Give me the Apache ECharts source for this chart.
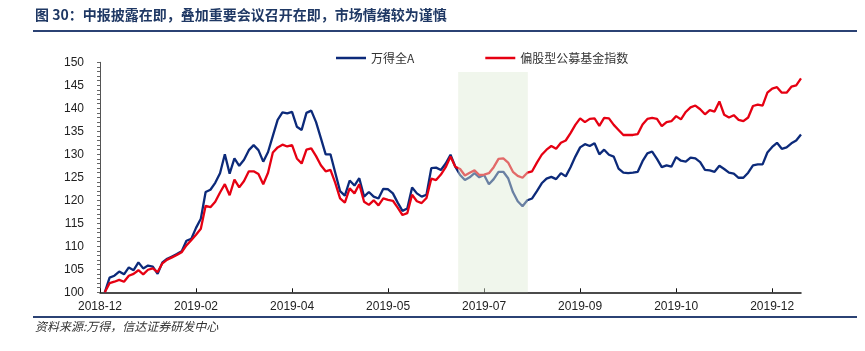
<!DOCTYPE html>
<html>
<head>
<meta charset="utf-8">
<script src="https://cdn.jsdelivr.net/npm/echarts@6.0.0/dist/echarts.min.js"></script>
<style>
  html, body { margin: 0; padding: 0; background: #fff; }
  #chart { width: 865px; height: 351px; }
</style>
</head>
<body>
<div id="chart"></div>
<script>
// 横轴刻度标签（每 20 个点一个刻度，每点约两个交易日）
const tickLabels = ['2018-12', '2019-02', '2019-04', '2019-05', '2019-07', '2019-09', '2019-10', '2019-12']
const tickStep = 20

// 万得全A（以 2018-12 末为 100）
const windA = [
  null, 100.0, 103.2, 103.6, 104.5, 103.9, 105.4, 104.8, 106.5, 105.2,
  105.8, 105.6, 104.0, 106.5, 107.3, 107.8, 108.3, 108.9, 111.2, 111.6,
  114.0, 116.0, 121.8, 122.3, 123.8, 125.9, 130.0, 125.8, 129.1, 127.5,
  128.8, 130.9, 132.0, 130.9, 128.4, 130.5, 134.0, 137.5, 139.1, 138.9,
  139.2, 136.0, 135.3, 139.0, 139.5, 137.0, 133.5, 130.0, 130.0, 126.0,
  122.0, 121.0, 124.3, 123.2, 124.8, 120.8, 121.8, 120.8, 120.4, 122.5,
  122.4, 121.5, 119.5, 117.7, 118.2, 122.8, 121.5, 120.8, 121.2, 127.0,
  127.1, 126.6, 128.0, 129.9, 127.3, 125.5, 124.4, 125.0, 125.9, 125.0,
  125.5, 123.5, 124.6, 126.2, 126.2, 124.8, 121.8, 119.8, 118.7, 120.0,
  120.4, 122.0, 123.7, 124.7, 125.1, 124.6, 125.9, 125.2, 127.2, 129.5,
  131.5, 132.2, 131.8, 132.4, 130.0, 131.0, 129.9, 129.5, 126.9, 126.0,
  125.9, 126.0, 126.2, 128.5, 130.2, 130.6, 129.0, 127.2, 127.6, 127.3,
  129.4, 128.6, 128.4, 129.3, 129.1, 128.3, 126.6, 126.5, 126.2, 127.5,
  126.8, 126.0, 125.8, 124.9, 124.9, 126.0, 127.6, 127.8, 127.8, 130.4,
  131.6, 132.5, 131.2, 131.5, 132.4, 133.0, 134.3
]

// 偏股型公募基金指数
const fundIndex = [
  null, 100.0, 102.0, 102.3, 102.7, 102.3, 103.6, 104.0, 104.8, 103.9,
  104.9, 105.2, 104.4, 106.3, 107.1, 107.6, 108.1, 108.7, 110.2, 111.3,
  112.5, 113.8, 118.8, 118.5, 119.7, 121.7, 123.5, 121.1, 124.5, 122.8,
  124.2, 126.3, 126.3, 125.7, 123.5, 126.0, 130.4, 131.5, 132.1, 131.7,
  132.0, 129.1, 128.0, 131.0, 131.3, 129.6, 127.6, 126.3, 126.6, 123.8,
  120.4, 119.5, 122.6, 121.5, 123.5, 119.7, 119.0, 120.0, 118.9, 120.4,
  120.1, 119.9, 118.4, 116.8, 117.2, 121.2, 119.8, 119.4, 120.5, 124.7,
  124.4, 125.6, 127.2, 129.5, 127.3, 126.8, 125.4, 126.0, 126.5, 125.5,
  125.6, 125.9, 127.2, 129.0, 129.1, 128.2, 126.2, 125.3, 124.9, 126.0,
  126.3, 128.2, 129.9, 131.0, 131.8, 131.2, 132.5, 133.0, 134.6, 136.4,
  137.8, 137.0, 137.7, 137.8, 136.2, 137.9, 137.8, 136.4, 135.3, 134.2,
  134.2, 134.2, 134.4, 136.5, 137.7, 137.9, 137.7, 136.1, 137.0, 137.2,
  138.3, 137.6, 139.2, 140.2, 140.6, 139.8, 138.7, 139.6, 139.3, 141.5,
  138.6, 138.0, 138.5, 137.5, 137.2, 138.0, 140.5, 140.8, 140.6, 143.4,
  144.3, 144.6, 143.4, 143.4, 144.7, 145.0, 146.5
]

// 中报披露窗口（阴影区，横轴位置与上沿数值）
const shadeX = [74.6, 89.1]
const shadeTop = 147.9

const lastIdx = windA.length - 1
const toPairs = arr => arr.map((v, i) => [i, v])
const tickValues = tickLabels.map((_, k) => k * tickStep)

const myChart = echarts.init(document.getElementById('chart'))

const option = {
  animation: false,
  backgroundColor: '#fff',
  textStyle: { fontFamily: 'Liberation Sans, Arial, sans-serif' },
  graphic: [
    {
      type: 'text', left: 35, top: 8,
      style: {
        text: '图 30：中报披露在即，叠加重要会议召开在即，市场情绪较为谨慎',
        fill: '#1f3864', font: 'bold 14px "Noto Sans CJK SC", sans-serif'
      }
    },
    { type: 'line', shape: { x1: 33, y1: 31, x2: 857, y2: 31 }, style: { stroke: '#2b4274', lineWidth: 2 } },
    { type: 'line', shape: { x1: 33, y1: 317, x2: 857, y2: 317 }, style: { stroke: '#2b4274', lineWidth: 2 } },
    {
      type: 'text', left: 35, top: 320,
      style: {
        text: '资料来源:万得，信达证券研发中心',
        fill: '#333', font: 'italic 12px "Noto Sans CJK SC", sans-serif'
      }
    }
  ],
  legend: {
    data: ['万得全A', '偏股型公募基金指数'],
    left: 331, top: 47,
    itemWidth: 30, itemHeight: 10, itemGap: 71,
    icon: 'path://M0,4 L30,4 L30,6.5 L0,6.5 Z',
    textStyle: { color: '#333', fontSize: 12, fontFamily: 'Noto Sans CJK SC' }
  },
  grid: { left: 100, right: 64, top: 62.3, bottom: 58.7 },
  xAxis: {
    type: 'value',
    min: 0, max: lastIdx,
    splitLine: { show: false },
    axisLine: { lineStyle: { color: '#111', width: 1.5 } },
    axisTick: { inside: true, length: 4, customValues: tickValues, lineStyle: { color: '#111' } },
    axisLabel: {
      customValues: tickValues,
      margin: 8, fontSize: 12, color: '#222',
      formatter: v => tickLabels[Math.round(v / tickStep)] || ''
    }
  },
  yAxis: {
    type: 'value',
    min: 100, max: 150, interval: 5,
    splitLine: { show: false },
    axisLine: { show: true, lineStyle: { color: '#555', width: 1 } },
    axisTick: { show: true, length: 3, lineStyle: { color: '#666' } },
    minorTick: { show: true, splitNumber: 5, length: 3, lineStyle: { color: '#666' } },
    axisLabel: { margin: 16, fontSize: 12, color: '#222' }
  },
  series: [
    {
      name: '万得全A', type: 'line', data: toPairs(windA),
      showSymbol: false, symbol: 'none',
      lineStyle: { color: '#0c2a7a', width: 2.3 },
      itemStyle: { color: '#0c2a7a' }
    },
    {
      name: '偏股型公募基金指数', type: 'line', data: toPairs(fundIndex),
      showSymbol: false, symbol: 'none',
      lineStyle: { color: '#e60012', width: 2.3 },
      itemStyle: { color: '#e60012' }
    },
    {
      // 阴影窗口画在两条线之上，使线条在窗口内变淡
      name: 'shade', type: 'line', data: [], z: 10,
      markArea: {
        silent: true, z: 10,
        itemStyle: { color: 'rgba(222,235,213,0.45)' },
        data: [[{ xAxis: shadeX[0], yAxis: shadeTop }, { xAxis: shadeX[1], yAxis: 100 }]]
      }
    }
  ]
}

myChart.setOption(option)
window.addEventListener('resize', () => myChart.resize())
</script>
</body>
</html>
